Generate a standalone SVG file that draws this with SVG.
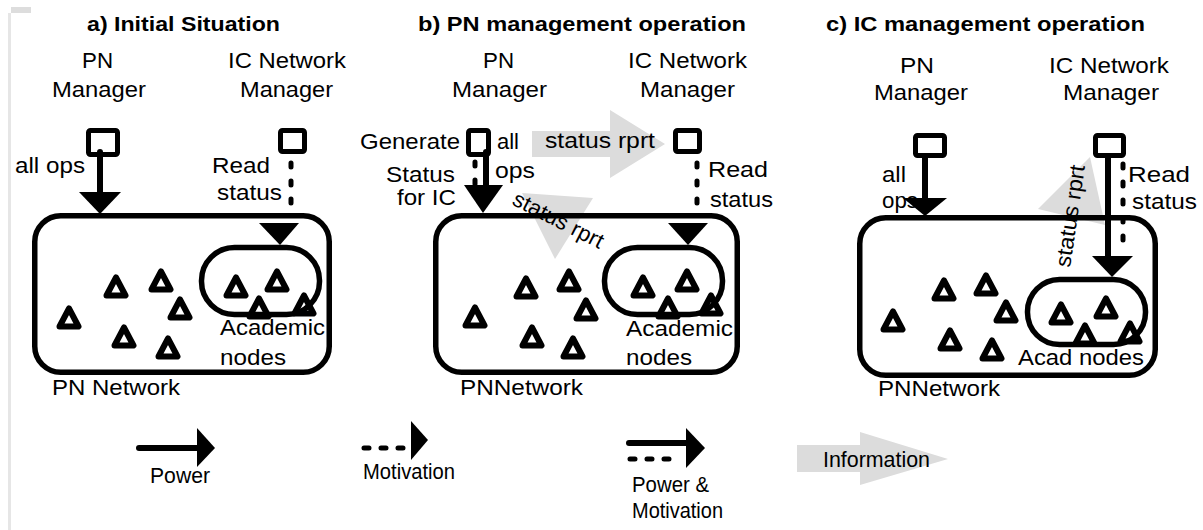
<svg xmlns="http://www.w3.org/2000/svg" xmlns:xlink="http://www.w3.org/1999/xlink" width="1203" height="530" viewBox="0 0 1203 530">
<style>
text{font-family:"Liberation Sans",Arial,sans-serif;font-size:22px;fill:#000}
.t{font-weight:bold;font-size:21px}
.box{fill:none;stroke:#000;stroke-width:5.5}
.mgr{fill:#fff;stroke:#000;stroke-width:5}
.tri{fill:none;stroke:#000;stroke-width:6;stroke-linejoin:round}
.pw{stroke:#000;stroke-width:6;fill:none;stroke-linecap:round}
.mv{stroke:#000;stroke-width:5;fill:none;stroke-linecap:round;stroke-dasharray:4 14}
.head{fill:#000}
.info{fill:#dcdcdc}
</style>
<defs>
<path id="tri" d="M0,-9.5 L9.5,8.5 L-9.5,8.5 Z"/>
</defs>
<rect width="1203" height="530" fill="#fff"/>
<g id="frame">
<rect x="8" y="13" width="3" height="517" fill="#e6e6e6"/>
<rect x="11" y="7" width="20" height="6" fill="#dddddd"/>
</g>

<g id="info-arrows">
<path class="info" d="M532,131 H610 V110 L665,144 L610,178 V157 H532 Z"/>
<path class="info" d="M522,193 L593,198 L555,259 Z"/>
<path class="info" d="M1090,157 L1038,209 L1105,225 Z"/>
</g>

<g id="titles">
<text class="t" x="87" y="31" textLength="193" lengthAdjust="spacingAndGlyphs">a) Initial Situation</text>
<text class="t" x="418" y="31" textLength="328" lengthAdjust="spacingAndGlyphs">b) PN management operation</text>
<text class="t" x="826" y="31" textLength="319" lengthAdjust="spacingAndGlyphs">c) IC management operation</text>
</g>

<!-- Panel a -->
<g id="a-pn-network">
<rect class="box" x="34.75" y="215.75" width="294.5" height="156.5" rx="26"/>
<text x="52" y="395" textLength="128" lengthAdjust="spacingAndGlyphs">PN Network</text>
<g class="tri">
<use xlink:href="#tri" x="69" y="318"/>
<use xlink:href="#tri" x="116" y="287"/>
<use xlink:href="#tri" x="161" y="281"/>
<use xlink:href="#tri" x="180" y="309"/>
<use xlink:href="#tri" x="124" y="337"/>
<use xlink:href="#tri" x="168" y="348"/>
</g>
</g>
<g id="a-academic">
<rect class="box" x="201.5" y="247.5" width="118" height="67" rx="33"/>
<g class="tri">
<use xlink:href="#tri" x="236" y="287"/>
<use xlink:href="#tri" x="277" y="281"/>
<use xlink:href="#tri" x="259" y="308"/>
<use xlink:href="#tri" x="304" y="305"/>
</g>
<text x="220" y="335" textLength="105" lengthAdjust="spacingAndGlyphs">Academic</text>
<text x="220" y="365" textLength="66" lengthAdjust="spacingAndGlyphs">nodes</text>
</g>
<g id="a-pn-manager">
<text x="82" y="68" textLength="31" lengthAdjust="spacingAndGlyphs">PN</text>
<text x="52" y="97" textLength="94" lengthAdjust="spacingAndGlyphs">Manager</text>
<rect class="mgr" x="88.5" y="130.5" width="29" height="24" rx="2"/>
</g>
<g id="a-ic-manager">
<text x="228" y="68" textLength="118" lengthAdjust="spacingAndGlyphs">IC Network</text>
<text x="240" y="97" textLength="93" lengthAdjust="spacingAndGlyphs">Manager</text>
<rect class="mgr" x="280.5" y="130.5" width="24" height="21" rx="2"/>
</g>

<!-- Panel b -->
<g id="b-pn-network">
<rect class="box" x="435.75" y="215.75" width="301.5" height="156.5" rx="26"/>
<text x="460" y="395" textLength="123" lengthAdjust="spacingAndGlyphs">PNNetwork</text>
<g class="tri">
<use xlink:href="#tri" x="475" y="317"/>
<use xlink:href="#tri" x="526" y="288"/>
<use xlink:href="#tri" x="569" y="281"/>
<use xlink:href="#tri" x="586" y="310"/>
<use xlink:href="#tri" x="532" y="337"/>
<use xlink:href="#tri" x="573" y="348"/>
</g>
</g>
<g id="b-academic">
<rect class="box" x="604.5" y="247.5" width="118" height="67" rx="33"/>
<g class="tri">
<use xlink:href="#tri" x="643" y="287"/>
<use xlink:href="#tri" x="687" y="281"/>
<use xlink:href="#tri" x="668" y="308"/>
<use xlink:href="#tri" x="711" y="305"/>
</g>
<text x="626" y="336" textLength="107" lengthAdjust="spacingAndGlyphs">Academic</text>
<text x="626" y="365" textLength="66" lengthAdjust="spacingAndGlyphs">nodes</text>
</g>
<g id="b-pn-manager">
<text x="483" y="68" textLength="31" lengthAdjust="spacingAndGlyphs">PN</text>
<text x="452" y="97" textLength="95" lengthAdjust="spacingAndGlyphs">Manager</text>
<rect class="mgr" x="468.5" y="130.5" width="20" height="24" rx="2"/>
</g>
<g id="b-ic-manager">
<text x="628" y="68" textLength="119" lengthAdjust="spacingAndGlyphs">IC Network</text>
<text x="640" y="97" textLength="95" lengthAdjust="spacingAndGlyphs">Manager</text>
<rect class="mgr" x="675.5" y="130.5" width="24" height="21" rx="2"/>
</g>

<!-- Panel c -->
<g id="c-pn-network">
<rect class="box" x="859.75" y="217.75" width="295.5" height="157.5" rx="26"/>
<text x="878" y="396" textLength="122" lengthAdjust="spacingAndGlyphs">PNNetwork</text>
<g class="tri">
<use xlink:href="#tri" x="893" y="321"/>
<use xlink:href="#tri" x="944" y="290"/>
<use xlink:href="#tri" x="986" y="285"/>
<use xlink:href="#tri" x="1006" y="312"/>
<use xlink:href="#tri" x="950" y="340"/>
<use xlink:href="#tri" x="992" y="350"/>
</g>
</g>
<g id="c-academic">
<rect class="box" x="1027.5" y="279.5" width="118" height="65" rx="32"/>
<g class="tri">
<use xlink:href="#tri" x="1061" y="314"/>
<use xlink:href="#tri" x="1106" y="308"/>
<use xlink:href="#tri" x="1085" y="335"/>
<use xlink:href="#tri" x="1130" y="333"/>
</g>
<text x="1018" y="365" textLength="126" lengthAdjust="spacingAndGlyphs">Acad nodes</text>
</g>
<g id="c-pn-manager">
<text x="900" y="73" textLength="34" lengthAdjust="spacingAndGlyphs">PN</text>
<text x="874" y="100" textLength="94" lengthAdjust="spacingAndGlyphs">Manager</text>
<rect class="mgr" x="915.5" y="135.5" width="29" height="20" rx="2"/>
</g>
<g id="c-ic-manager">
<text x="1049" y="73" textLength="120" lengthAdjust="spacingAndGlyphs">IC Network</text>
<text x="1063" y="100" textLength="96" lengthAdjust="spacingAndGlyphs">Manager</text>
<rect class="mgr" x="1095.5" y="135.5" width="28" height="20" rx="2"/>
</g>

<g id="connectors">
<!-- a -->
<line class="pw" x1="100" y1="152" x2="100" y2="194"/>
<path class="head" d="M79,192 H121 L100,214 Z"/>
<line class="mv" x1="291" y1="163" x2="291" y2="214"/>
<path class="head" d="M259,223 H299 L280,245 Z"/>
<text x="15" y="173" textLength="70" lengthAdjust="spacingAndGlyphs">all ops</text>
<text x="212" y="173" textLength="58" lengthAdjust="spacingAndGlyphs">Read</text>
<text x="217" y="200" textLength="65" lengthAdjust="spacingAndGlyphs">status</text>
<!-- b -->
<line class="mv" x1="475" y1="162" x2="475" y2="186"/>
<line class="pw" x1="486" y1="152" x2="486" y2="187"/>
<path class="head" d="M464,185 H503 L483,213 Z"/>
<line class="mv" x1="697" y1="163" x2="697" y2="214"/>
<path class="head" d="M668,223 H708 L688,245 Z"/>
<text x="360" y="149" textLength="100" lengthAdjust="spacingAndGlyphs">Generate</text>
<text x="386" y="182" textLength="69" lengthAdjust="spacingAndGlyphs">Status</text>
<text x="397" y="205" textLength="59" lengthAdjust="spacingAndGlyphs">for IC</text>
<text x="497" y="149" textLength="22" lengthAdjust="spacingAndGlyphs">all</text>
<text x="495" y="178" textLength="40" lengthAdjust="spacingAndGlyphs">ops</text>
<text x="545" y="148" textLength="110" lengthAdjust="spacingAndGlyphs">status rprt</text>
<text transform="translate(511,204) rotate(27)" textLength="99" lengthAdjust="spacingAndGlyphs">status rprt</text>
<text x="708" y="177" textLength="60" lengthAdjust="spacingAndGlyphs">Read</text>
<text x="710" y="207" textLength="63" lengthAdjust="spacingAndGlyphs">status</text>
<!-- c -->
<line class="pw" x1="925" y1="156" x2="925" y2="200"/>
<path class="head" d="M903,198 H947 L925,216 Z"/>
<line class="pw" x1="1108" y1="156" x2="1108" y2="258"/>
<path class="head" d="M1092,256 H1133 L1112,277 Z"/>
<line class="mv" x1="1123" y1="164" x2="1123" y2="250"/>
<text x="882" y="182" textLength="24" lengthAdjust="spacingAndGlyphs">all</text>
<text x="882" y="208" textLength="36" lengthAdjust="spacingAndGlyphs">ops</text>
<text x="1128" y="182" textLength="62" lengthAdjust="spacingAndGlyphs">Read</text>
<text x="1132" y="209" textLength="65" lengthAdjust="spacingAndGlyphs">status</text>
<text transform="translate(1070,268) rotate(-81.6)" textLength="103" lengthAdjust="spacingAndGlyphs">status rprt</text>
</g>

<g id="legend">
<line class="pw" x1="139" y1="448" x2="199" y2="448"/>
<path class="head" d="M197,428 L215,448 L197,467 Z"/>
<text x="150" y="483" textLength="60" lengthAdjust="spacingAndGlyphs">Power</text>
<line class="mv" x1="364" y1="448" x2="406" y2="448" style="stroke-dasharray:5 12"/>
<path class="head" d="M411,421 L428,440 L411,460 Z"/>
<text x="363" y="479" textLength="92" lengthAdjust="spacingAndGlyphs">Motivation</text>
<line class="pw" x1="629" y1="443" x2="688" y2="443"/>
<line class="mv" x1="630" y1="459" x2="681" y2="459" style="stroke-dasharray:5 12"/>
<path class="head" d="M686,428 L705,448 L686,468 Z"/>
<text x="632" y="492" textLength="77" lengthAdjust="spacingAndGlyphs">Power &amp;</text>
<text x="632" y="518" textLength="91" lengthAdjust="spacingAndGlyphs">Motivation</text>
<path class="info" d="M797,445 H860 V432 L948,459 L860,485 V472 H797 Z"/>
<text x="823" y="467" textLength="107" lengthAdjust="spacingAndGlyphs">Information</text>
</g>
</svg>
